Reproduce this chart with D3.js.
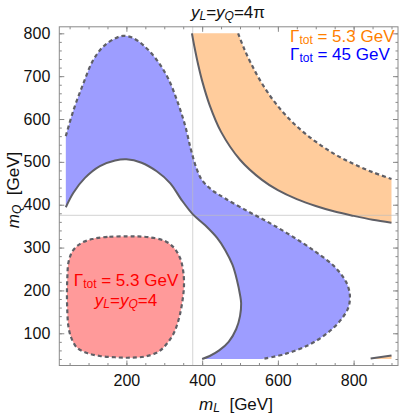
<!DOCTYPE html>
<html>
<head>
<meta charset="utf-8">
<script src="https://d3js.org/d3.v7.min.js"></script>
<style>
body { margin: 0; background: #fff; }
text { font-family: "Liberation Sans", Arial, sans-serif; }
.frame path, .frame line { stroke: #8a8a8a; }
</style>
</head>
<body>
<svg class="chart"></svg>
<script>
// axis ticks
const xMajor = [200, 400, 600, 800]
const yMajor = [100, 200, 300, 400, 500, 600, 700, 800]
const xMinor = d3.range(50, 901, 50)
const yMinor = d3.range(40, 801, 20)
const guideL = 375, guideQ = 375

// red blob, Gamma = 5.3 GeV, y = 4 (dashed contour, closed) [mL, mQ]
const redPts = [[200,326],[150,325],[110,320],[80,310],[58,292],[47,265],[44,230],[43,190],[44,150],[47,115],[55,88],[70,66],[96,54],[130,47],[170,44],[210,43],[250,46],[285,57],[307,76],[325,100],[338,132],[347,170],[352,210],[350,245],[342,275],[325,300],[300,316],[260,324],[230,326]]

// blue band, Gamma = 45 GeV : outer dashed and inner solid contour
const blueOuter = [[40,560],[60,620],[85,680],[112,737],[140,770],[170,788],[191,794],[215,790],[245,772],[281,737],[310,695],[335,640],[355,585],[370,530],[385,485],[400,457],[425,435],[460,415],[520,385],[579,357],[640,325],[700,290],[750,255],[780,220],[790,190],[786,160],[765,130],[730,100],[680,72],[620,52],[560,40]]
const blueInner = [[40,394],[60,428],[90,462],[130,490],[170,503],[200,506],[240,498],[280,478],[316,450],[345,412],[375,378],[408,352],[440,322],[461,294],[480,260],[492,224],[500,190],[503,170],[500,140],[490,110],[470,80],[445,60],[420,47],[400,40]]

// orange band, Gamma = 5.3 GeV : inner solid and outer dashed contour
const orangeInner = [[373,800],[380,767],[390,725],[400,689],[420,632],[450,570],[500,505],[558,458],[600,434],[650,413],[700,397],[750,384],[800,374],[850,365],[900,358]]
const orangeOuter = [[495,800],[510,766],[530,728],[560,680],[600,630],[650,583],[700,547],[750,518],[800,495],[850,476],[900,460]]
// small sliver bottom right
const sliver = [[845,41],[900,48]]

const w = 399, h = 415
const svg = d3.select('.chart').attr('width', w).attr('height', h)

const x = d3.scaleLinear().domain([22.8, 917.2]).range([59.3, 398])
const y = d3.scaleLinear().domain([24.8, 815.2]).range([365.5, 26.8])

const smooth = d3.line().x(d => x(d[0])).y(d => y(d[1])).curve(d3.curveCatmullRom)
const closed = d3.line().x(d => x(d[0])).y(d => y(d[1])).curve(d3.curveCatmullRomClosed)
const straight = d3.line().x(d => x(d[0])).y(d => y(d[1]))
const cont = s => 'L' + s.slice(1)

const darkLine = '#5f5f66'

// fills
svg.append('path').attr('d', closed(redPts)).attr('fill', '#ff9a9a')

let blueD = smooth(blueOuter) + cont(smooth(blueInner.slice().reverse())) + 'Z'
svg.append('path').attr('d', blueD).attr('fill', '#9d9dff')

let orangeD = smooth(orangeInner) + cont(smooth(orangeOuter.slice().reverse())) + 'Z'
svg.append('path').attr('d', orangeD).attr('fill', '#ffcc9c')

svg.append('path')
  .attr('d', straight([[845,40],[900,40],[900,48],[845,41]]) + 'Z')
  .attr('fill', '#ffcc9c')

// guide lines
svg.append('line')
  .attr('x1', x(guideL)).attr('x2', x(guideL)).attr('y1', y(24.8)).attr('y2', y(815.2))
  .attr('stroke', 'rgba(190,190,190,0.55)').attr('stroke-width', 1.2)
svg.append('line')
  .attr('x1', x(22.8)).attr('x2', x(917.2)).attr('y1', y(guideQ)).attr('y2', y(guideQ))
  .attr('stroke', 'rgba(190,190,190,0.55)').attr('stroke-width', 1.2)

// boundaries
const dashed = { stroke: darkLine, 'stroke-width': 2.2, 'stroke-dasharray': '4,3', fill: 'none' }
const solid = { stroke: darkLine, 'stroke-width': 2, fill: 'none' }
function drawPath(d, style) {
  let p = svg.append('path').attr('d', d)
  Object.keys(style).forEach(k => p.attr(k, style[k]))
}
drawPath(closed(redPts), dashed)
drawPath(smooth(blueOuter), dashed)
drawPath(smooth(blueInner), solid)
drawPath(smooth(orangeInner), solid)
drawPath(smooth(orangeOuter), dashed)
drawPath(straight(sliver), solid)

// frame with inward ticks
function frameAxis(gen, scale, major, minor, tr, labels) {
  let g = svg.append('g').attr('class', 'frame').attr('transform', tr)
  g.call(gen(scale).tickValues(minor).tickSize(-2.5).tickFormat(''))
  let g2 = svg.append('g').attr('class', 'frame').attr('transform', tr)
  g2.call(gen(scale).tickValues(major).tickSize(-5).tickPadding(labels ? 9 : 0)
    .tickFormat(labels ? d3.format('d') : ''))
  g2.selectAll('text').attr('fill', '#111').style('font-size', '16px')
  g.select('.domain').remove()
  g2.select('.domain').remove()
  return g2
}
frameAxis(d3.axisBottom, x, xMajor, xMinor, 'translate(0,365.5)', true)
frameAxis(d3.axisTop, x, xMajor, xMinor, 'translate(0,26.8)', false)
frameAxis(d3.axisLeft, y, yMajor, yMinor, 'translate(59.3,0)', true)
frameAxis(d3.axisRight, y, yMajor, yMinor, 'translate(398,0)', false)
svg.append('rect').attr('x', 59.3).attr('y', 26.8).attr('width', 398 - 59.3).attr('height', 365.5 - 26.8)
  .attr('fill', 'none').attr('stroke', '#8a8a8a').attr('stroke-width', 1)

function subText(sel, parts, subSize) {
  // parts: [text, italic, sub]
  parts.forEach(p => {
    let s = sel.append('tspan').text(p[0])
    if (p[1]) s.attr('font-style', 'italic')
    if (p[2]) s.attr('baseline-shift', '-20%').style('font-size', subSize + 'px')
  })
}

// title
let t = svg.append('text').attr('x', 228).attr('y', 18).attr('text-anchor', 'middle').style('font-size', '17px').attr('fill', '#111')
subText(t, [['y', 1, 0], ['L', 1, 1], ['=', 0, 0], ['y', 1, 0], ['Q', 1, 1], ['=4π', 0, 0]], 12)

// axis labels
let xl = svg.append('text').attr('x', 236).attr('y', 410).attr('text-anchor', 'middle')
  .style('font-size', '17px').attr('fill', '#111').attr('xml:space', 'preserve')
subText(xl, [['m', 1, 0], ['L', 1, 1], ['  [GeV]', 0, 0]], 12)

let yl = svg.append('text').attr('transform', 'translate(19,190) rotate(-90)').attr('text-anchor', 'middle')
  .style('font-size', '17px').attr('fill', '#111').attr('xml:space', 'preserve')
subText(yl, [['m', 1, 0], ['Q', 1, 1], ['  [GeV]', 0, 0]], 12)

// legend
function gammaLabel(xp, yp, txt, color, anchor, size) {
  let e = svg.append('text').attr('x', xp).attr('y', yp).attr('fill', color)
    .attr('text-anchor', anchor).style('font-size', size + 'px')
  subText(e, [['Γ', 0, 0], ['tot', 0, 1], [txt, 0, 0]], Math.round(size * 0.7))
  return e
}
gammaLabel(290, 42, ' = 5.3 GeV', '#ff7f00', 'start', 17)
gammaLabel(290, 60, ' = 45 GeV', '#0000ff', 'start', 17)

// label inside red blob
gammaLabel(126, 286, ' = 5.3 GeV', '#ff0000', 'middle', 17)
let rl = svg.append('text').attr('x', 126).attr('y', 306).attr('fill', '#ff0000').attr('text-anchor', 'middle').style('font-size', '17px')
subText(rl, [['y', 1, 0], ['L', 1, 1], ['=', 0, 0], ['y', 1, 0], ['Q', 1, 1], ['=4', 0, 0]], 12)
</script>
</body>
</html>
